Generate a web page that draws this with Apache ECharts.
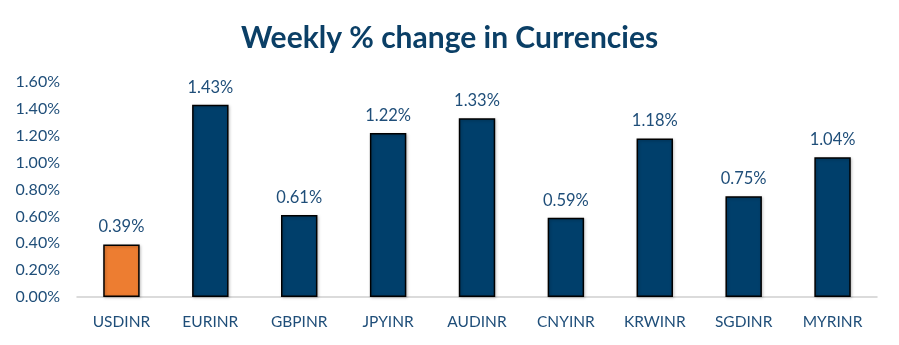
<!DOCTYPE html>
<html><head><meta charset="utf-8">
<script src="https://cdn.jsdelivr.net/npm/echarts@6/dist/echarts.min.js"></script>
<style>html,body{margin:0;padding:0;background:#fff}#c{width:899px;height:345px}</style>
</head><body><div id="c"></div>
<script>
const categories = ["USDINR","EURINR","GBPINR","JPYINR","AUDINR","CNYINR","KRWINR","SGDINR","MYRINR"];
const values = [0.39,1.43,0.61,1.22,1.33,0.59,1.18,0.75,1.04];
const highlightCategory = "USDINR";
const titleText = "Weekly % change in Currencies";
const textColor = "#1f4e79";
const chart = echarts.init(document.getElementById('c'));
chart.setOption({
  animation:false,
  title:{text:titleText,left:'center',top:18,textStyle:{fontFamily:'Lato',fontWeight:'bold',fontSize:30,color:'#0b3f66'}},
  grid:{left:77,right:22,top:82,bottom:48},
  xAxis:{type:'category',data:categories,axisTick:{show:false},axisLine:{lineStyle:{color:'#d0d0d0',width:1.5}},
    axisLabel:{color:textColor,fontFamily:'Lato',fontSize:15.5,margin:17}},
  yAxis:{type:'value',min:0,max:1.6,interval:0.2,splitLine:{show:false},axisLine:{show:false},axisTick:{show:false},
    axisLabel:{color:textColor,fontFamily:'Lato',fontSize:16,margin:17,formatter:v=>v.toFixed(2)+'%'}},
  series:[{type:'bar',barWidth:'41%',
    data:values.map((v,i)=>({value:v,itemStyle:{color:categories[i]===highlightCategory?'#ed7d31':'#003f6b'}})),
    itemStyle:{borderColor:'#000',borderWidth:1.5,shadowColor:'rgba(0,0,0,0.25)',shadowBlur:3,shadowOffsetX:1,shadowOffsetY:1},
    label:{show:true,position:'top',distance:9,color:textColor,fontFamily:'Lato',fontSize:16.5,formatter:p=>p.value.toFixed(2)+'%'}}]
});
</script></body></html>
